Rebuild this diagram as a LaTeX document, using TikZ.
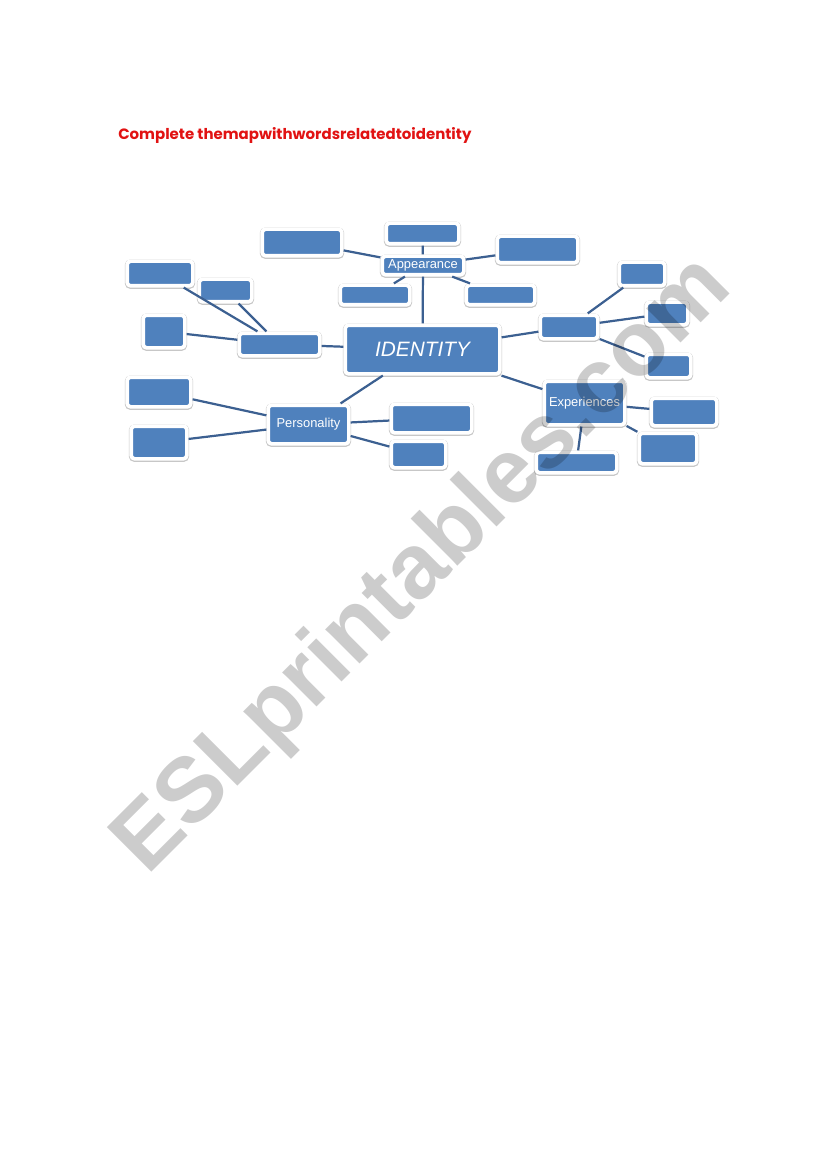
\documentclass[tikz,border=0pt]{standalone}
\usepackage{fontspec}
\setsansfont{Liberation Sans}
\newfontfamily\titlefont{Poppins}
\usepackage{tikz}
\usetikzlibrary{arrows}

\definecolor{boxblue}{RGB}{79,129,189}
\definecolor{linkblue}{RGB}{60,96,145}
\definecolor{titlered}{RGB}{225,18,18}

\tikzset{
  blank/.style 2 args={draw=white, line width=2.6pt, fill=boxblue, rounded corners=2.5pt,
    minimum width=#1*0.7207pt+2.6pt, minimum height=#2*0.7207pt+2.6pt, inner sep=0pt,
    preaction={draw=black!22, line width=3.5pt, transform canvas={yshift=-0.5pt}}},
  topic/.style={text=white, font=\sffamily\fontsize{9.3}{11}\selectfont},
  link/.style={draw=linkblue, line width=1.6pt},
}

\begin{document}
\begin{tikzpicture}[x=0.7207pt, y=-0.7207pt]
  \useasboundingbox (0,0) rectangle (826,1169);
  \node[anchor=base west, inner sep=0, text=titlered, font=\titlefont\bfseries\fontsize{10.8}{12}\selectfont] (title) at (118,140) {Complete themapwithwordsrelatedtoidentity};

  % centre and branches
  \node[blank={151}{45}, text=white, font=\sffamily\itshape\fontsize{15}{18}\selectfont] (idn) at (422.5,349.5) {IDENTITY};
  \node[blank={78}{15}, topic] (app) at (423,265.5) {Appearance};
  \node[blank={77}{19}] (lhub) at (279.5,344.5) {};
  \node[blank={54}{20}] (rhub) at (569,327) {};
  \node[blank={77}{35}, topic] (pers) at (308.5,424.5) {Personality};
  \node[blank={77}{40}, topic] (expr) at (584.5,403) {Experiences};

  % empty boxes
  \node[blank={69}{17}] (atop) at (422.5,233.5) {};
  \node[blank={76}{23}] (aleft) at (302,242.5) {};
  \node[blank={77}{23}] (aright) at (537.5,249.5) {};
  \node[blank={66}{16}] (adl) at (375,295) {};
  \node[blank={65}{16}] (adr) at (500.5,295) {};
  \node[blank={62}{21}] (lone) at (160,273.5) {};
  \node[blank={49}{19}] (ltwo) at (225.5,290.5) {};
  \node[blank={38}{29}] (lthree) at (164,331.5) {};
  \node[blank={42}{20}] (rone) at (642,274) {};
  \node[blank={38}{19}] (rtwo) at (667,313.5) {};
  \node[blank={41}{20}] (rthree) at (668.5,366) {};
  \node[blank={60}{26}] (pone) at (159,392) {};
  \node[blank={52}{29}] (ptwo) at (159,442.5) {};
  \node[blank={77}{25}] (pthree) at (431.5,418.5) {};
  \node[blank={51}{23}] (pfour) at (418.5,454.5) {};
  \node[blank={62}{24}] (eone) at (684,412) {};
  \node[blank={54}{27}] (etwo) at (668,448.5) {};
  \node[blank={77}{17}] (ethree) at (576.5,462.5) {};

  \path[link]
  (app) edge (atop) edge (aleft) edge (aright) edge (adl) edge (adr) edge (idn)
  (idn) edge (lhub) edge (rhub) edge (pers) edge (expr)
  (lhub) edge (lone) edge (ltwo) edge (lthree)
  (rhub) edge (rone) edge (rtwo) edge (rthree)
  (pers) edge (pone) edge (ptwo) edge (pthree) edge (pfour)
  (expr) edge (eone) edge (etwo) edge (ethree)
  ;

  \node[anchor=base west, inner sep=0, rotate=45, text=black, text opacity=0.2,
    font=\sffamily\bfseries\fontsize{66}{66}\selectfont] (mark) at (147,877) {ESLprintables.com};
\end{tikzpicture}
\end{document}
